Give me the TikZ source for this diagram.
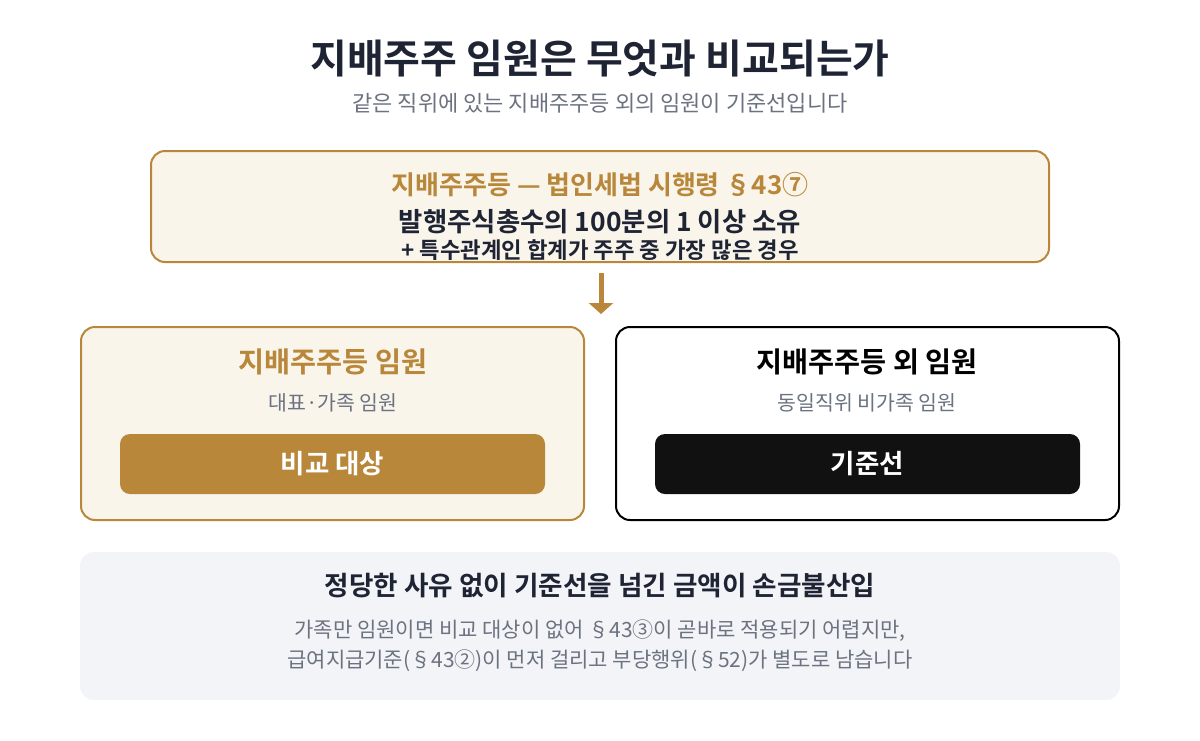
\documentclass[tikz,border=0pt]{standalone}
\usepackage{fontspec}
\setmainfont{Noto Sans CJK KR}[BoldFont={Noto Sans CJK KR Bold}]
\usetikzlibrary{arrows.meta,positioning}
\definecolor{gold}{HTML}{B8873A}
\definecolor{cream}{HTML}{FAF5EB}
\definecolor{ink}{HTML}{1E2433}
\definecolor{mute}{HTML}{6B7280}
\definecolor{pale}{HTML}{F3F4F8}
\definecolor{coal}{HTML}{111111}

\begin{document}
\begin{tikzpicture}[x=1pt, y=-1pt,
	goldcard/.style={draw=gold, line width=2pt, fill=cream, rounded corners=14pt},
	blackcard/.style={draw=black, line width=2pt, fill=white, rounded corners=14pt},
	tag/.style={rounded corners=10pt, minimum width=425pt, minimum height=60pt,
	text=white, font=\fontsize{26.5}{30}\selectfont\bfseries},
	hd/.style={font=\fontsize{28.3}{32}\selectfont\bfseries},
	sub/.style={text=mute, font=\fontsize{20.5}{24}\selectfont}]
\useasboundingbox (0,0) rectangle (1200,740);
% title
\node[text=ink, font=\fontsize{40}{46}\selectfont\bfseries] (title) at (600,59) {지배주주 임원은 무엇과 비교되는가};
\node[sub, font=\fontsize{22}{26}\selectfont] (subtitle) at (600,103) {같은 직위에 있는 지배주주등 외의 임원이 기준선입니다};
% definition
\node[goldcard, minimum width=898pt, minimum height=111pt] (defbox) at (600,206.5) {};
\node[text=gold, font=\fontsize{26}{30}\selectfont\bfseries] (deftitle) at (600,185) {지배주주등 — 법인세법 시행령 §43⑦};
\node[text=ink, font=\fontsize{26.4}{30}\selectfont\bfseries] (defmain) at (600,222) {발행주식총수의 100분의 1 이상 소유};
\node[text=ink, font=\fontsize{22.3}{26}\selectfont\bfseries] (defnote) at (600,250) {+ 특수관계인 합계가 주주 중 가장 많은 경우};
\coordinate (arrowend) at (601,314);
\draw[gold, line width=5pt, -{Triangle[width=24pt,length=11pt]}, shorten <=10pt] (defbox.south -| arrowend) -- (arrowend);
% left: compared
\node[goldcard, minimum width=503pt, minimum height=193pt] (ctrl) at (332.5,423.5) {};
\node[hd, text=gold] (ctrlhd) at (333,362) {지배주주등 임원};
\node[sub] (ctrlsub) at (333,403) {대표·가족 임원};
\node[tag, fill=gold] (ctrltag) at (332.5,464) {비교 대상};
% right: baseline
\node[blackcard, minimum width=503pt, minimum height=193pt] (other) at (867.5,423.5) {};
\node[hd, text=black] (otherhd) at (867,362) {지배주주등 외 임원};
\node[sub] (othersub) at (867,403) {동일직위 비가족 임원};
\node[tag, fill=coal] (othertag) at (867.5,464) {기준선};
% conclusion
\node[fill=pale, rounded corners=14pt, minimum width=1040pt, minimum height=148pt] (note) at (600,626) {};
\node[text=ink, font=\fontsize{26.6}{30}\selectfont\bfseries] (notehd) at (600,586) {정당한 사유 없이 기준선을 넘긴 금액이 손금불산입};
\node[sub, font=\fontsize{21}{25}\selectfont] (noteone) at (600,631) {가족만 임원이면 비교 대상이 없어 §43③이 곧바로 적용되기 어렵지만,};
\node[sub, font=\fontsize{21}{25}\selectfont] (notetwo) at (600,661) {급여지급기준(§43②)이 먼저 걸리고 부당행위(§52)가 별도로 남습니다};
\end{tikzpicture}
\end{document}
